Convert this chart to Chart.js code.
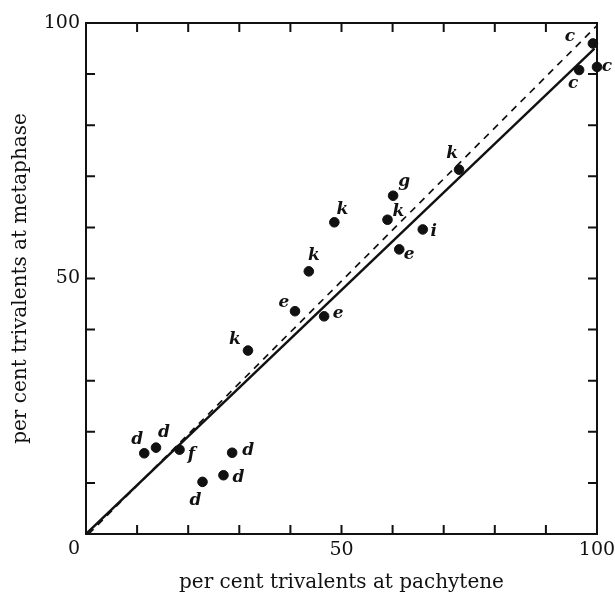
<!DOCTYPE html>
<html>
<head>
<meta charset="utf-8">
<script src="https://cdn.jsdelivr.net/npm/chart.js@4.4.0/dist/chart.umd.min.js"></script>
<style>
  html, body { margin: 0; padding: 0; background: #fff; }
  #wrap { width: 615px; height: 598px; }
</style>
</head>
<body>
<div id="wrap"><canvas id="chart"></canvas></div>
<script>
// values
var pachytene = [99.2, 96.5, 100, 73.0, 60.1, 59.0, 48.6, 65.9, 61.3, 43.6, 40.9, 46.6, 31.7, 11.4, 13.7, 18.3, 28.6, 26.9, 22.8];
var metaphase = [96.0, 90.8, 91.4, 71.3, 66.2, 61.5, 61.0, 59.6, 55.7, 51.4, 43.6, 42.6, 35.9, 15.8, 16.9, 16.5, 15.9, 11.5, 10.2];
var pointLetters = ['c', 'c', 'c', 'k', 'g', 'k', 'k', 'i', 'e', 'k', 'e', 'e', 'k', 'd', 'd', 'f', 'd', 'd', 'd'];
// pixel nudges of each letter from its dot
var labelNudge = [[-23, -7], [-6, 14], [10, 0], [-7, -16], [11, -14], [11, -8], [8, -13], [11, 2], [10, 5],
                  [5, -16], [-11, -9], [14, -3], [-13, -11], [-7, -14], [8, -15], [12, 5], [16, -2], [15, 2], [-7, 19]];
var fittedLine = [[0, 0], [99.5, 95]];   // solid
var equalLine = [[0.5, 0], [100, 99.5]]; // dashed
var labelledTicks = [50, 100];

var serif = 'DejaVu Serif';
var ink = '#111';

function toXY(xs, ys) {
    return xs.map(function (x, i) { return { x: x, y: ys[i] }; });
}
function pairs(list) {
    return list.map(function (p) { return { x: p[0], y: p[1] }; });
}

var letterPlugin = {
    id: 'letters',
    afterDatasetsDraw: function (chart) {
        var ctx = chart.ctx;
        var meta = chart.getDatasetMeta(2);
        ctx.save();
        ctx.fillStyle = ink;
        ctx.font = 'italic bold 17px "' + serif + '"';
        ctx.textAlign = 'center';
        ctx.textBaseline = 'middle';
        meta.data.forEach(function (pt, i) {
            ctx.fillText(pointLetters[i], pt.x + labelNudge[i][0], pt.y + labelNudge[i][1]);
        });
        ctx.restore();
    }
};

// inward ticks on all four sides, plus the shared "0" at the corner
var tickPlugin = {
    id: 'inwardTicks',
    afterDraw: function (chart) {
        var ctx = chart.ctx;
        var area = chart.chartArea;
        var xs = chart.scales.x, ys = chart.scales.y;
        var len = 9;
        ctx.save();
        ctx.strokeStyle = ink;
        ctx.lineWidth = 2;
        ctx.beginPath();
        xs.ticks.forEach(function (t) {
            if (t.value <= 0 || t.value >= 100) return;
            var px = xs.getPixelForValue(t.value);
            ctx.moveTo(px, area.bottom);
            ctx.lineTo(px, area.bottom - len);
            ctx.moveTo(px, area.top);
            ctx.lineTo(px, area.top + len);
        });
        ys.ticks.forEach(function (t) {
            if (t.value <= 0 || t.value >= 100) return;
            var py = ys.getPixelForValue(t.value);
            ctx.moveTo(area.left, py);
            ctx.lineTo(area.left + len, py);
            ctx.moveTo(area.right, py);
            ctx.lineTo(area.right - len, py);
        });
        ctx.stroke();
        ctx.fillStyle = ink;
        ctx.font = '19px "' + serif + '"';
        ctx.textAlign = 'center';
        ctx.textBaseline = 'middle';
        ctx.fillText('0', xs.getPixelForValue(0) - 12, ys.getPixelForValue(0) + 15);
        ctx.restore();
    }
};

function tickLabel(value) {
    return labelledTicks.indexOf(value) >= 0 ? String(value) : '';
}

var ctx = document.getElementById('chart').getContext('2d');
var chart = new Chart(ctx, {
    type: 'scatter',
    data: {
        datasets: [{
            type: 'line',
            data: pairs(fittedLine),
            borderColor: ink,
            borderWidth: 2.4,
            pointRadius: 0,
            fill: false
        }, {
            type: 'line',
            data: pairs(equalLine),
            borderColor: ink,
            borderWidth: 1.7,
            borderDash: [7, 6],
            pointRadius: 0,
            fill: false
        }, {
            data: toXY(pachytene, metaphase),
            backgroundColor: ink,
            borderColor: ink,
            pointRadius: 4.8,
            clip: false
        }]
    },
    options: {
        responsive: true,
        maintainAspectRatio: false,
        animation: false,
        layout: { padding: 0 },
        plugins: {
            legend: { display: false },
            tooltip: { enabled: false }
        },
        scales: {
            x: {
                type: 'linear',
                position: 'bottom',
                min: 0, max: 100,
                grid: { display: false, drawTicks: false },
                border: { display: true, color: ink, width: 2 },
                ticks: {
                    stepSize: 10, autoSkip: false, maxRotation: 0,
                    padding: 5, color: ink,
                    font: { family: serif, size: 19 },
                    callback: tickLabel
                },
                title: {
                    display: true,
                    text: 'per cent trivalents at pachytene',
                    color: ink,
                    font: { family: serif, size: 20 },
                    padding: { top: 0, bottom: 3 }
                },
                afterFit: function (s) {
                    s.height = 64;
                    s.paddingLeft = 0;
                    s.paddingRight = 0;
                }
            },
            x2: {
                type: 'linear',
                position: 'top',
                min: 0, max: 100,
                grid: { display: false, drawTicks: false },
                border: { display: true, color: ink, width: 2 },
                ticks: { display: false },
                afterFit: function (s) {
                    s.height = 23;
                    s.paddingLeft = 0;
                    s.paddingRight = 0;
                }
            },
            y: {
                type: 'linear',
                position: 'left',
                min: 0, max: 100,
                grid: { display: false, drawTicks: false },
                border: { display: true, color: ink, width: 2 },
                ticks: {
                    stepSize: 10, autoSkip: false,
                    padding: 6, color: ink,
                    font: { family: serif, size: 19 },
                    callback: tickLabel
                },
                title: {
                    display: true,
                    text: 'per cent trivalents at metaphase',
                    color: ink,
                    font: { family: serif, size: 20 },
                    padding: { top: 9, bottom: 0 }
                },
                afterFit: function (s) { s.width = 86; }
            },
            y2: {
                type: 'linear',
                position: 'right',
                min: 0, max: 100,
                grid: { display: false, drawTicks: false },
                border: { display: true, color: ink, width: 2 },
                ticks: { display: false },
                afterFit: function (s) { s.width = 18; }
            }
        }
    },
    plugins: [letterPlugin, tickPlugin]
});
</script>
</body>
</html>
